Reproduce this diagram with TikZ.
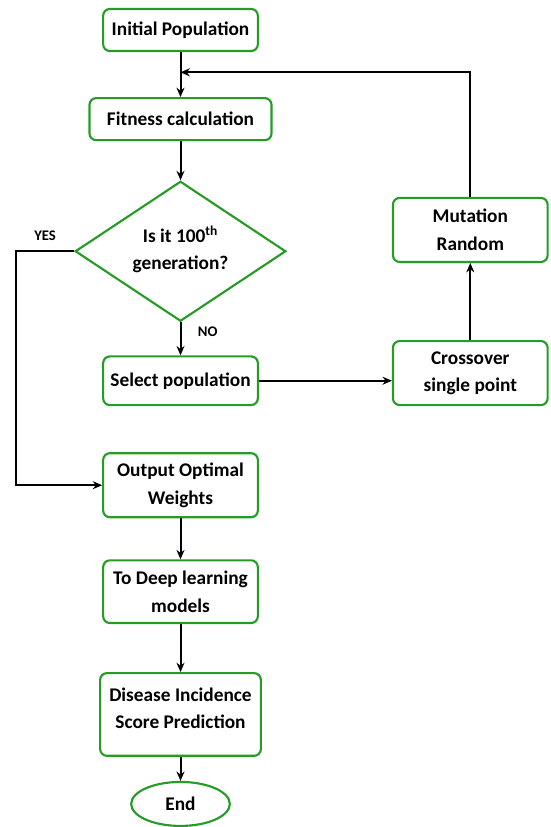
\documentclass[tikz,border=0pt]{standalone}
\usepackage{fontspec}
\setmainfont{Carlito}
\usetikzlibrary{shapes.geometric, arrows.meta, positioning, calc}
\definecolor{boxgreen}{RGB}{38,156,38}
\tikzset{
    base/.style = {
        draw=boxgreen, line width=1.6pt, text centered, align=center,
        font=\fontsize{14.5}{20.5}\selectfont\bfseries, inner sep=2pt
    },
    % Components
    process/.style  = {base, rectangle, rounded corners=5pt, minimum width=116pt},
    decision/.style = {base, diamond, aspect=1.5, inner sep=0pt,
                       minimum width=158pt, minimum height=105pt},
    startend/.style = {base, ellipse, minimum width=74pt, minimum height=33pt},
    % Edges and annotations
    arrow/.style = {line width=1.5pt, ->, >={Stealth[length=7pt, width=6pt]}},
    annotation/.style = {font=\fontsize{11}{12}\selectfont\bfseries}
}

\begin{document}
\begin{tikzpicture}[x=0.75pt, y=-0.75pt]
    \useasboundingbox (0,0) rectangle (550,827);

    % Main column
    \node (init) [process, minimum height=31.5pt] at (180.5,30) {Initial Population};
    \node (fitness) [process, minimum width=136.5pt, minimum height=31.5pt, below=33.75pt of init] {Fitness calculation};
    \node (check) [decision, text depth=5pt, below=29.25pt of fitness] {Is it 100\textsuperscript{th}\\generation?};
    \node (select) [process, minimum height=36.5pt, below=24.75pt of check] {Select population};
    \node (output) [process, minimum height=48pt, below=34.5pt of select] {Output Optimal\\Weights};
    \node (deep) [process, minimum height=47pt, below=30.75pt of output] {To Deep learning\\models};
    \node (disease) [process, minimum width=120.5pt, minimum height=62pt, text depth=9pt, below=36pt of deep] {Disease Incidence\\Score Prediction};
    \node (end) [startend, below=18pt of disease] {End};

    % Crossover / mutation loop
    \node (cross) [process, minimum height=48pt, right=99.75pt of select.south east, anchor=south west] {Crossover\\single point};
    \node (mutate) [process, minimum height=48pt, above=57.75pt of cross] {Mutation\\Random};

    % --- Connections ---
    \draw [arrow] (init) -- (fitness);
    \draw [arrow] (fitness) -- (check);
    \draw [arrow] (check) -- node[right, annotation, pos=0.3, xshift=9pt] {NO} (select);
    \draw [arrow] (select.east) -- (select.east -| cross.west);
    \draw [arrow] (cross) -- (mutate);

    % back to the top of the loop
    \coordinate (back) at ($(init.south)!0.45!(fitness.north)$);
    \draw [arrow] (mutate.north) |- (back);

    % stop after the last generation
    \draw [arrow] (check.west) -- node[above, annotation, yshift=4pt] {YES} ++(-43.5pt,0) |- (output.west);

    \draw [arrow] (output) -- (deep);
    \draw [arrow] (deep) -- (disease);
    \draw [arrow] (disease) -- (end);

\end{tikzpicture}
\end{document}
